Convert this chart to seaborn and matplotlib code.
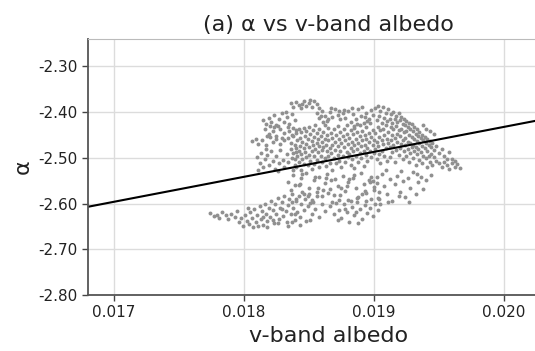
import numpy as np
import pandas as pd
import matplotlib
matplotlib.use('Agg')
import matplotlib.pyplot as plt
from matplotlib.ticker import FormatStrFormatter
import seaborn as sns

# points: (albedo * 1e5, alpha * 1e3)
tail_left = [(1774,-2620),(1777,-2628),(1779,-2624),(1781,-2631),(1783,-2619),(1786,-2626),
             (1788,-2633),(1790,-2622),(1793,-2629),(1795,-2617)]

band_low = [(1796,-2641),(1798,-2632),(1799,-2648),(1801,-2625),(1802,-2638),(1804,-2645),(1805,-2619),
            (1806,-2631),(1808,-2612),(1809,-2640),(1810,-2626),(1812,-2605),(1813,-2634),(1814,-2617),
            (1815,-2646),(1816,-2600),(1817,-2623),(1818,-2638),(1819,-2609),(1820,-2629),(1821,-2595),
            (1822,-2614),(1823,-2642),(1824,-2602),(1825,-2622),(1826,-2588),(1827,-2633),(1828,-2610),
            (1829,-2597),(1830,-2627),(1831,-2583),(1832,-2616),(1833,-2640),(1834,-2603),(1835,-2591),
            (1836,-2622),(1837,-2578),(1838,-2609),(1839,-2635),(1840,-2595),(1841,-2618),(1842,-2584),
            (1843,-2629),(1844,-2600),(1845,-2574),(1846,-2614),(1847,-2590),(1848,-2638),(1849,-2605),
            (1850,-2579),(1852,-2622),(1853,-2596),(1855,-2611),(1856,-2583),(1858,-2630),(1860,-2601),
            (1862,-2617),(1803,-2609),(1811,-2648),(1818,-2651),(1826,-2643),(1834,-2650),(1807,-2652),
            (1829,-2612),(1837,-2641),(1843,-2647),(1851,-2637),(1815,-2629),(1822,-2636),(1839,-2622)]

band_mid_low = [(1834,-2552),(1836,-2571),(1838,-2538),(1840,-2589),(1842,-2560),(1844,-2545),(1846,-2578),
                (1848,-2533),(1850,-2566),(1852,-2592),(1854,-2549),(1856,-2575),(1858,-2541),(1860,-2583),
                (1862,-2556),(1864,-2536),(1866,-2569),(1868,-2597),(1870,-2547),(1872,-2562),(1874,-2581),
                (1876,-2539),(1878,-2573),(1880,-2552),(1882,-2594),(1884,-2544),(1886,-2567),(1888,-2586),
                (1890,-2534),(1892,-2558),(1894,-2577),(1896,-2548),(1898,-2590),(1900,-2563),(1902,-2541),
                (1904,-2574),(1837,-2596),(1843,-2557),(1849,-2584),(1855,-2542),(1861,-2570),(1867,-2549),
                (1873,-2593),(1879,-2561),(1885,-2537),(1891,-2579),(1897,-2553),(1903,-2588),(1845,-2535),
                (1857,-2566),(1869,-2582),(1881,-2546),(1893,-2572),(1839,-2559),(1851,-2598),(1863,-2543),
                (1875,-2565),(1887,-2587),(1899,-2551),(1865,-2576)]

bottom_mid = [(1866,-2605),(1869,-2622),(1871,-2598),(1873,-2614),(1875,-2631),(1877,-2601),(1879,-2619),
              (1881,-2640),(1883,-2607),(1885,-2626),(1887,-2596),(1889,-2612),(1891,-2634),(1893,-2603),
              (1895,-2621),(1897,-2609),(1899,-2628),(1901,-2600),(1903,-2615),(1872,-2636),(1880,-2593),
              (1888,-2642),(1894,-2595),(1878,-2611),(1886,-2618)]

arm_upper = [(1836,-2381),(1838,-2388),(1840,-2377),(1842,-2384),(1844,-2391),(1846,-2375),(1848,-2386),
             (1850,-2380),(1852,-2389),(1854,-2376),(1856,-2383),(1858,-2392),(1845,-2382),(1851,-2373),
             (1815,-2418),(1817,-2425),(1819,-2412),(1821,-2421),(1823,-2407),(1825,-2428),(1827,-2415),
             (1829,-2403),(1831,-2422),(1833,-2410),(1835,-2427),(1837,-2405),(1839,-2417),(1826,-2431),
             (1832,-2399),(1820,-2430),
             (1856,-2402),(1858,-2413),(1860,-2397),(1862,-2408),(1864,-2419),(1866,-2400),(1868,-2411),
             (1870,-2394),(1872,-2406),(1874,-2416),(1876,-2403),(1861,-2421),(1867,-2391),(1873,-2398),
             (1859,-2409),(1865,-2414),
             (1806,-2464),(1809,-2458),(1811,-2469),(1814,-2461),(1817,-2472),(1820,-2455),(1822,-2466),
             (1825,-2459),(1828,-2470),(1831,-2462),(1834,-2457),(1836,-2468),
             (1816,-2438),(1819,-2447),(1822,-2441),(1825,-2452),(1828,-2436),(1831,-2445),(1834,-2433),
             (1837,-2449),(1840,-2440),(1823,-2432),(1829,-2456),(1835,-2442),(1818,-2453),(1838,-2435)]

upper_fill = [(1878,-2412),(1880,-2398),(1882,-2421),(1884,-2405),(1886,-2416),(1888,-2393),(1890,-2409),
              (1892,-2424),(1894,-2401),(1896,-2414),(1898,-2396),(1879,-2428),(1883,-2392),(1887,-2427),
              (1891,-2389),(1895,-2419),(1899,-2407),(1877,-2395),(1885,-2430),(1893,-2411)]

core_left = [(1810,-2498),(1812,-2511),(1813,-2489),(1815,-2520),(1816,-2503),(1818,-2494),(1819,-2515),
             (1821,-2486),(1822,-2507),(1824,-2524),(1825,-2497),(1827,-2512),(1828,-2483),(1830,-2505),
             (1831,-2519),(1833,-2491),(1834,-2509),(1836,-2481),(1837,-2500),(1839,-2516),(1840,-2488),
             (1811,-2526),(1817,-2481),(1826,-2529),(1838,-2527)]

core = [(1838,-2452),(1838,-2489),(1839,-2471),(1839,-2503),(1840,-2446),(1840,-2478),(1840,-2521),
        (1841,-2462),(1841,-2495),(1842,-2438),(1842,-2484),(1842,-2510),(1843,-2457),(1843,-2475),
        (1844,-2444),(1844,-2491),(1844,-2527),(1845,-2466),(1845,-2502),(1846,-2435),(1846,-2479),
        (1846,-2513),(1847,-2452),(1847,-2487),(1848,-2469),(1848,-2498),(1848,-2441),(1849,-2459),
        (1849,-2516),(1850,-2432),(1850,-2476),(1850,-2493),(1851,-2448),(1851,-2507),(1852,-2464),
        (1852,-2484),(1852,-2525),(1853,-2440),(1853,-2472),(1854,-2455),(1854,-2497),(1854,-2514),
        (1855,-2429),(1855,-2481),(1856,-2467),(1856,-2505),(1856,-2446),(1857,-2488),(1857,-2458),
        (1858,-2437),(1858,-2474),(1858,-2519),(1859,-2452),(1859,-2495),(1860,-2466),(1860,-2483),
        (1860,-2509),(1861,-2443),(1861,-2477),(1862,-2458),(1862,-2500),(1862,-2428),(1863,-2471),
        (1863,-2518),(1864,-2449),(1864,-2486),(1865,-2462),(1865,-2496),(1865,-2434),(1866,-2478),
        (1866,-2511),(1867,-2445),(1867,-2490),(1868,-2457),(1868,-2473),(1868,-2526),(1869,-2438),
        (1869,-2501),(1870,-2465),(1870,-2482),(1871,-2450),(1871,-2512),(1872,-2474),(1872,-2493),
        (1872,-2431),(1873,-2459),(1873,-2506),(1874,-2443),(1874,-2485),(1875,-2468),(1875,-2520),
        (1876,-2452),(1876,-2497),(1877,-2476),(1877,-2437),(1878,-2461),(1878,-2508),(1879,-2447),
        (1879,-2488),(1880,-2470),(1880,-2499),
        (1881,-2456),(1881,-2492),(1882,-2440),(1882,-2478),(1882,-2515),(1883,-2465),(1883,-2503),
        (1884,-2448),(1884,-2484),(1885,-2472),(1885,-2522),(1885,-2435),(1886,-2459),(1886,-2496),
        (1887,-2444),(1887,-2481),(1888,-2468),(1888,-2509),(1889,-2453),(1889,-2489),(1889,-2428),
        (1890,-2475),(1890,-2501),(1891,-2441),(1891,-2462),(1892,-2486),(1892,-2517),(1893,-2450),
        (1893,-2471),(1894,-2433),(1894,-2494),(1894,-2459),(1895,-2478),(1895,-2507),(1896,-2446),
        (1896,-2466),(1897,-2484),(1897,-2424),(1898,-2455),(1898,-2498),(1899,-2439),(1899,-2473),
        (1900,-2461),(1900,-2490)]

cluster_right = [(1901,-2392),(1901,-2445),(1901,-2481),(1902,-2418),(1902,-2466),(1902,-2503),
                 (1903,-2386),(1903,-2432),(1903,-2474),(1904,-2408),(1904,-2455),(1904,-2491),
                 (1905,-2398),(1905,-2440),(1905,-2512),(1906,-2423),(1906,-2462),(1906,-2484),
                 (1907,-2389),(1907,-2436),(1907,-2470),(1908,-2412),(1908,-2451),(1908,-2497),
                 (1909,-2401),(1909,-2428),(1909,-2479),(1910,-2420),(1910,-2458),(1910,-2506),
                 (1911,-2394),(1911,-2443),(1911,-2468),(1912,-2415),(1912,-2476),(1912,-2499),
                 (1913,-2405),(1913,-2433),(1913,-2461),(1914,-2424),(1914,-2449),(1914,-2487),
                 (1915,-2399),(1915,-2438),(1915,-2472),(1916,-2416),(1916,-2457),(1916,-2509),
                 (1917,-2408),(1917,-2430),(1917,-2483),(1918,-2421),(1918,-2447),(1918,-2465),
                 (1919,-2403),(1919,-2439),(1919,-2494),(1920,-2418),(1920,-2453),(1920,-2478),
                 (1921,-2410),(1921,-2436),(1921,-2469),(1922,-2425),(1922,-2460),(1922,-2502),
                 (1923,-2414),(1923,-2444),(1923,-2486),(1924,-2428),(1924,-2457),(1924,-2473),
                 (1925,-2419),(1925,-2441),(1925,-2497),(1926,-2432),(1926,-2465),(1926,-2481),
                 (1927,-2423),(1927,-2450),(1927,-2510),(1928,-2437),(1928,-2468),(1928,-2489),
                 (1929,-2427),(1929,-2455),(1929,-2476),(1930,-2442),(1930,-2471),(1930,-2500),
                 (1931,-2433),(1931,-2458),(1931,-2486),(1932,-2447),(1932,-2477),(1932,-2515),
                 (1933,-2438),(1933,-2463),(1933,-2492),(1934,-2452),(1934,-2481),(1935,-2444),
                 (1935,-2468),(1935,-2504),(1936,-2457),(1936,-2488),(1937,-2449),(1937,-2474),
                 (1937,-2512),(1938,-2462),(1938,-2495),(1939,-2454),(1939,-2479),(1940,-2467),
                 (1940,-2501),(1941,-2458),(1941,-2486),(1941,-2520),(1942,-2472),(1942,-2496),
                 (1943,-2463),(1943,-2508),(1944,-2477),(1944,-2491),(1945,-2468),(1945,-2515),
                 (1946,-2482),(1946,-2499),(1948,-2474),(1948,-2506),(1950,-2489),(1950,-2512),
                 (1952,-2480),(1952,-2521),(1954,-2495),(1954,-2509),(1956,-2502),(1956,-2516),
                 (1958,-2488),(1958,-2524),(1960,-2511),(1960,-2503),(1962,-2519),(1962,-2507),
                 (1964,-2514),(1966,-2522),(1940,-2436),(1943,-2441),(1946,-2447),(1938,-2429)]

right_low = [(1898,-2542),(1900,-2571),(1902,-2556),(1904,-2589),(1906,-2535),(1908,-2562),(1910,-2578),
             (1912,-2547),(1914,-2594),(1916,-2558),(1918,-2539),(1920,-2574),(1922,-2551),(1924,-2585),
             (1926,-2544),(1928,-2566),(1930,-2532),(1932,-2579),(1934,-2553),(1936,-2541),(1938,-2568),
             (1940,-2549),(1905,-2601),(1911,-2596),(1919,-2583),(1927,-2597),(1909,-2527),(1921,-2529),
             (1933,-2536),(1944,-2538)]

# fitted line end points
fit_albedo = [0.0168, 0.0205]
fit_alpha = [-2.607, -2.405]

pts = np.array(tail_left + band_low + band_mid_low + bottom_mid + arm_upper + upper_fill
               + core_left + core + cluster_right + right_low, dtype=float)
df = pd.DataFrame({'albedo': pts[:, 0] / 1e5, 'alpha': pts[:, 1] / 1e3})

sns.set_style('whitegrid', {'xtick.bottom': True, 'ytick.left': True})
plt.rcParams['font.family'] = ['DejaVu Sans']
plt.rcParams['xtick.major.size'] = 4
plt.rcParams['ytick.major.size'] = 4

fig = plt.figure(figsize=(5.35, 3.51), dpi=100)
ax = fig.add_axes([0.1645, 0.1595, 0.899, 0.7295])

sns.scatterplot(data=df, x='albedo', y='alpha', ax=ax, color='#909090',
                s=8, linewidth=0, marker='o')
sns.lineplot(x=fit_albedo, y=fit_alpha, ax=ax, color='black', linewidth=1.5)

ax.set_xlim(0.0168, 0.0205)
ax.set_ylim(-2.80, -2.24)
ax.set_xticks([0.017, 0.018, 0.019, 0.020])
ax.set_yticks([-2.80, -2.70, -2.60, -2.50, -2.40, -2.30])
ax.xaxis.set_major_formatter(FormatStrFormatter('%.3f'))
ax.yaxis.set_major_formatter(FormatStrFormatter('%.2f'))
ax.grid(True, color='#dcdcdc', linewidth=1)
ax.tick_params(axis='both', which='major', labelsize=11, length=4, width=1,
               color='#444444', labelcolor='#222222', bottom=True, left=True)
for side in ['left', 'bottom']:
    ax.spines[side].set_color('#555555')
    ax.spines[side].set_linewidth(1.3)
for side in ['top', 'right']:
    ax.spines[side].set_color('#bbbbbb')

ax.set_title('(a) α vs v-band albedo', fontsize=16, color='#222222')
ax.set_xlabel('v-band albedo', fontsize=16, color='#222222')
ax.set_ylabel('α', fontsize=16, color='#222222')

fig.savefig('out.png', dpi=100)
